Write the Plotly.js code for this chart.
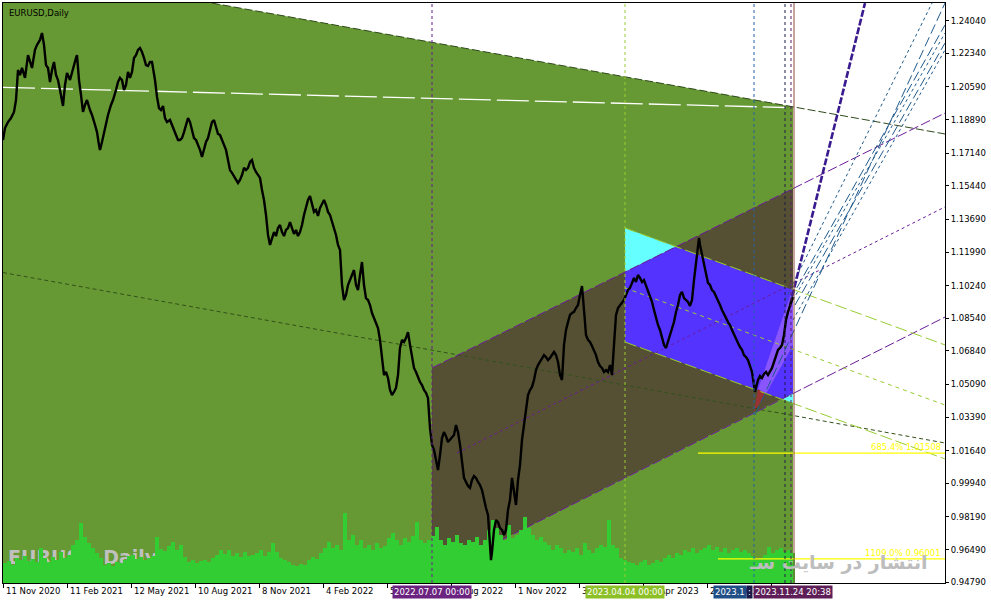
<!DOCTYPE html>
<html><head><meta charset="utf-8">
<script src="https://cdn.plot.ly/plotly-3.0.1.min.js"></script>
<style>html,body{margin:0;padding:0;background:#fff}#chart{width:991px;height:605px}</style>
</head><body><div id="chart"></div>
<script>
// ---- price (daily bars, index = bar number) ----
const priceBar = [3,5,8,11,14,16,18,20,22,25,28,30,32,35,37,40,42,44,46,48,50,52,54,56,58,60,62,63,65,67,70,72,74,76,77,79,81,83,85,87,90,92,95,97,99,100,102,105,108,111,113,116,118,120,122,124,126,128,130,132,134,136,138,140,142,144,146,148,150,152,154,155,157,159,161,163,165,167,170,172,174,176,178,180,182,184,186,188,190,192,194,196,198,200,202,204,206,208,210,212,214,216,218,220,222,224,226,228,230,232,234,236,238,240,242,244,246,248,250,252,254,256,258,260,262,264,266,268,270,272,274,276,278,280,282,284,286,288,290,292,294,296,298,300,302,304,306,308,310,312,314,316,318,320,322,324,326,328,330,332,334,336,338,340,342,344,346,348,350,352,354,356,358,360,362,364,366,368,370,372,374,376,378,380,382,384,386,388,390,392,394,396,398,400,402,404,406,408,410,412,414,416,418,420,422,424,426,428,430,432,434,436,438,440,442,444,446,448,450,452,454,456,458,460,462,464,466,468,470,472,474,476,478,480,482,484,486,488,490,491,492,494,496,498,500,502,504,506,508,510,512,514,516,518,520,522,524,526,528,530,532,534,536,538,540,542,544,546,548,550,552,554,556,558,560,562,564,566,568,570,572,574,576,578,580,582,584,586,588,590,592,594,596,598,600,602,604,606,608,610,612,614,616,618,620,622,624,626,628,630,632,634,636,638,640,642,644,646,648,650,652,654,656,658,660,662,664,666,668,670,672,674,676,678,680,682,684,686,688,690,692,694,696,698,699,700,702,704,706,708,710,712,714,716,718,720,722,724,726,728,730,732,734,736,738,740,742,744,746,748,750,752,754,755,756,758,760,762,764,766,768,770,772,774,776,778,780,782,784,786,788,790,792,793];
const priceClose = [1.1783,1.1845,1.1876,1.1897,1.1929,1.1991,1.2147,1.2121,1.2158,1.2106,1.2225,1.2189,1.2158,1.2252,1.2278,1.2304,1.2340,1.2278,1.2173,1.2158,1.2085,1.2147,1.2189,1.2121,1.2095,1.2043,1.1991,1.1960,1.2069,1.2132,1.2095,1.2137,1.2173,1.2210,1.2225,1.2095,1.2017,1.1929,1.1965,1.1991,1.1939,1.1913,1.1861,1.1824,1.1757,1.1731,1.1772,1.1845,1.1913,1.1965,1.1991,1.2043,1.2085,1.2106,1.2095,1.2043,1.2069,1.2137,1.2106,1.2137,1.2210,1.2225,1.2252,1.2262,1.2241,1.2210,1.2173,1.2168,1.2189,1.2189,1.2137,1.2095,1.2007,1.1949,1.1939,1.1960,1.1897,1.1876,1.1887,1.1861,1.1835,1.1809,1.1783,1.1783,1.1793,1.1824,1.1861,1.1897,1.1876,1.1835,1.1793,1.1783,1.1757,1.1731,1.1694,1.1731,1.1772,1.1793,1.1835,1.1876,1.1887,1.1845,1.1814,1.1809,1.1783,1.1757,1.1731,1.1678,1.1626,1.1611,1.1595,1.1574,1.1559,1.1574,1.1600,1.1637,1.1626,1.1637,1.1668,1.1678,1.1637,1.1616,1.1600,1.1585,1.1522,1.1470,1.1392,1.1288,1.1236,1.1272,1.1303,1.1282,1.1324,1.1340,1.1303,1.1282,1.1314,1.1324,1.1355,1.1324,1.1293,1.1314,1.1282,1.1303,1.1340,1.1392,1.1428,1.1470,1.1491,1.1444,1.1408,1.1418,1.1387,1.1428,1.1449,1.1470,1.1444,1.1408,1.1392,1.1355,1.1324,1.1288,1.1236,1.1210,1.1027,1.0949,1.0975,1.1027,1.1053,1.1079,1.1105,1.1027,1.1001,1.1079,1.1147,1.1027,1.0959,1.0949,1.0923,1.0881,1.0855,1.0834,1.0803,1.0741,1.0636,1.0558,1.0574,1.0543,1.0480,1.0454,1.0470,1.0491,1.0558,1.0699,1.0741,1.0730,1.0751,1.0782,1.0715,1.0647,1.0595,1.0574,1.0543,1.0522,1.0506,1.0480,1.0465,1.0438,1.0282,1.0194,1.0168,1.0105,1.0063,1.0141,1.0230,1.0261,1.0240,1.0209,1.0220,1.0230,1.0246,1.0298,1.0261,1.0194,1.0089,1.0022,1.0001,0.9980,0.9970,1.0011,1.0032,1.0022,1.0001,0.9985,0.9959,0.9907,0.9865,0.9829,0.9699,0.9594,0.9636,0.9751,0.9803,0.9792,0.9761,0.9751,0.9725,0.9751,0.9855,0.9907,1.0022,0.9959,0.9881,1.0011,1.0089,1.0220,1.0298,1.0402,1.0454,1.0480,1.0496,1.0532,1.0584,1.0610,1.0626,1.0647,1.0662,1.0652,1.0636,1.0647,1.0662,1.0678,1.0662,1.0626,1.0558,1.0532,1.0715,1.0793,1.0834,1.0871,1.0881,1.0887,1.0907,1.0923,1.0975,1.1022,1.0897,1.0767,1.0741,1.0730,1.0709,1.0689,1.0662,1.0626,1.0605,1.0595,1.0574,1.0584,1.0574,1.0610,1.0558,1.0715,1.0871,1.0907,1.0923,1.0939,1.0949,1.0975,1.1001,1.1012,1.1043,1.1064,1.1043,1.1079,1.1064,1.1043,1.1053,1.1027,1.1001,1.0970,1.0939,1.0897,1.0855,1.0819,1.0793,1.0751,1.0715,1.0699,1.0730,1.0767,1.0793,1.0834,1.0887,1.0923,1.0975,1.0991,1.0959,1.0949,1.0939,1.0918,1.0949,1.1053,1.1147,1.1236,1.1272,1.1236,1.1183,1.1147,1.1079,1.1038,1.1027,1.1001,1.0991,1.0970,1.0949,1.0923,1.0897,1.0871,1.0855,1.0834,1.0819,1.0793,1.0767,1.0741,1.0725,1.0704,1.0689,1.0662,1.0652,1.0636,1.0610,1.0574,1.0506,1.0470,1.0491,1.0532,1.0553,1.0543,1.0564,1.0574,1.0558,1.0574,1.0595,1.0626,1.0662,1.0689,1.0699,1.0715,1.0767,1.0845,1.0887,1.0923,1.0949,1.0965];

// ---- tick volume (thousands), one value per 4-bar block starting at bar 3 ----
const volStartBar = 3, volBlock = 4;
const volumeK = [40,44,36,50,46,54,44,48,42,70,50,42,52,46,62,50,56,76,86,120,92,80,70,60,50,36,40,34,42,40,46,54,56,48,52,46,50,54,92,68,64,74,82,66,76,52,42,46,40,44,46,42,50,56,66,58,66,54,60,52,62,54,56,60,66,54,62,80,62,50,46,42,36,34,38,36,46,52,48,60,70,82,70,76,66,140,86,96,76,86,70,76,66,80,70,74,90,100,86,76,90,82,94,122,86,80,86,94,112,86,76,90,82,96,80,76,86,82,92,76,86,106,126,110,96,86,116,90,96,106,132,110,96,86,92,82,76,66,76,70,60,66,62,70,56,80,66,60,70,76,72,126,76,70,50,46,42,40,36,42,46,36,40,46,42,50,56,50,60,56,66,62,70,60,66,70,76,66,72,62,70,60,66,70,62,66,60,54,46,50,56,72,60,66,70,62,66,60];

// ---- axes ----
const priceTicks = [1.24040,1.22340,1.20590,1.18890,1.17140,1.15440,1.13690,1.11990,1.10240,1.08540,1.06840,1.05090,1.03390,1.01640,0.99940,0.98190,0.96490,0.94790];
const dateTickBars = [3.5,67.5,131.5,195.5,259.5,323.5,387.5,451.5,515.5,579.5,643.5,707.5,771.5];
const dateTickLabels = ["11 Nov 2020","11 Feb 2021","12 May 2021","10 Aug 2021","8 Nov 2021","4 Feb 2022","5 May 2022","3 Aug 2022","1 Nov 2022","30 Jan 2023","28 Apr 2023","27 Jul 2023",""];
const barRange = [3, 945];
const priceRange = [0.94746, 1.24964];

// ---- drawn objects (bar, price) ----
const bigZoneBar = [3,212,793,793,3];
const bigZonePrice = [1.2496,1.2496,1.1956,0.9470,0.9470];
const channelBar = [432,793,793,432];
const channelPrice = [1.0595,1.1529,1.0465,0.9516];
const channelTopBar = [432,945], channelTopPrice = [1.0595,1.1923];
const channelBotBar = [432,945], channelBotPrice = [0.9516,1.0860];
const channelMidBar = [457,945], channelMidPrice = [1.0152,1.1434];
const regTopBar = [625,945], regTopPrice = [1.1324,1.0715];
const regMidBar = [625,945], regMidPrice = [1.1012,1.0402];
const regBotBar = [625,945], regBotPrice = [1.0730,1.0121];
const cyanTopBar = [625,676,625], cyanTopPrice = [1.1324,1.1227,1.1095];
const cyanBotBar = [782,793,793], cyanBotPrice = [1.0433,1.0465,1.0412];
const blueBar = [625,676,793,793,782,625];
const bluePrice = [1.1095,1.1227,1.1001,1.0465,1.0433,1.0730];
const lavBar = [758,793,793,766], lavPrice = [1.0485,1.1012,1.0715,1.0460];
const redBar = [754,758,766], redPrice = [1.0366,1.0485,1.0460];
const whiteLineBar = [3,785], whiteLinePrice = [1.2057,1.1952];
const zoneEdgeBar = [212,945], zoneEdgePrice = [1.2496,1.1814];
const longTrendBar = [3,945], longTrendPrice = [1.1092,1.0204];
const fanStartBar = [755,785,790,793,795,793];
const fanStartPrice = [1.0350,1.0949,1.0949,1.0949,1.0923,1.0845];
const fanEndBar = [945,932,945,945,945,945];
const fanEndPrice = [1.2496,1.2496,1.2382,1.2340,1.2288,1.2252];
const steepBar = [790,865], steepPrice = [1.0923,1.2496];
const fibLevels = [1.01508, 0.96001];
const fibStartBar = [698, 718];
const fibLabels = ["685.4% 1.01508", "1109.0% 0.96001"];
const vLineBar = [432,625,754,785,791];
const vLineColor = ["#6a1b8a","#9acd32","#2460a8","#1c1c44","#5a1a66"];
// bottom time labels of the vertical lines (later ones cover the earlier ones)
const vLabelText = ["2022.07.07 00:00","2023.04.04 00:00","2023.1",":","2023.11.24 20:38"];
const vLabelBar = [432,625,730,749,793];
const vLabelBg = ["#6b2380","#8dbf26","#1f4f86","#1a1a4a","#5e1f58"];
const nowBar = 794;

const F = "DejaVu Sans";
function line(x,y,color,width,dash,ax){return {x:x,y:y,type:'scatter',mode:'lines',line:{color:color,width:width,dash:dash},yaxis:ax||'y',hoverinfo:'skip'};}
function poly(x,y,color){return {x:x,y:y,type:'scatter',mode:'lines',fill:'toself',fillcolor:color,line:{width:0,color:color},hoverinfo:'skip'};}

const traces = [];
traces.push(poly(bigZoneBar,bigZonePrice,'#669933'));
traces.push(poly(channelBar,channelPrice,'#555033'));
traces.push(poly(cyanTopBar,cyanTopPrice,'#66ffff'));
traces.push(poly(cyanBotBar,cyanBotPrice,'#66ffff'));
traces.push(poly(blueBar,bluePrice,'#5533ff'));
traces.push(poly(lavBar,lavPrice,'#8855ff'));
traces.push(poly(redBar,redPrice,'#993333'));
// watermark symbol text (under volume)
traces.push({x:[8],y:[0.9600],type:'scatter',mode:'text',text:['EURUSD,Daily'],textposition:'middle right',textfont:{family:F,size:19,color:'#c0c0c0',weight:'bold'},hoverinfo:'skip'});
traces.push(line(whiteLineBar,whiteLinePrice,'#ffffff',1.3,'32px,6px'));
traces.push(line(zoneEdgeBar,zoneEdgePrice,'#2f4a1c',1,'8px,3px'));
traces.push(line(longTrendBar,longTrendPrice,'#33501c',1,'4px,3px'));
traces.push(line(channelTopBar,channelTopPrice,'#6a1b9a',1,'10px,3px'));
traces.push(line(channelBotBar,channelBotPrice,'#6a1b9a',1,'10px,3px'));
traces.push(line(channelMidBar,channelMidPrice,'#6a1b9a',1,'3px,3px'));
traces.push(line(regTopBar,regTopPrice,'#99cc33',1,'12px,4px'));
traces.push(line(regMidBar,regMidPrice,'#99cc33',1,'4px,4px'));
traces.push(line(regBotBar,regBotPrice,'#99cc33',1,'12px,4px'));
for(let i=0;i<fanStartBar.length;i++){
  traces.push(line([fanStartBar[i],fanEndBar[i]],[fanStartPrice[i],fanEndPrice[i]],'#1f5a8c',1,(i%2?'3px,3px':'10px,4px')));
}
traces.push(line(steepBar,steepPrice,'#3a1a8f',2.6,'7px,2px'));
// volume on its own overlay axis
const volX = volumeK.map((v,i)=>volStartBar+i*volBlock);
const volY = volumeK.slice();
volX.push(795); volY.push(volumeK[volumeK.length-1]);
traces.push({x:volX,y:volY,type:'scatter',mode:'lines',line:{shape:'hv',width:0,color:'#32cd32'},fill:'tozeroy',fillcolor:'#32cd32',yaxis:'y2',hoverinfo:'skip'});
// price + fib levels on top overlay
traces.push(line(priceBar,priceClose,'#000000',2.4,'solid','y3'));
for(let i=0;i<fibLevels.length;i++){
  traces.push(line([fibStartBar[i],945],[fibLevels[i],fibLevels[i]],'#ffff00',1.2,'solid','y3'));
}

const shapes = vLineBar.map((b,i)=>({type:'line',xref:'x',yref:'paper',x0:b,x1:b,y0:0,y1:1,layer:'above',line:{color:vLineColor[i],width:1,dash:'3px,3px'}}));
shapes.push({type:'line',xref:'x',yref:'paper',x0:nowBar,x1:nowBar,y0:0,y1:1,layer:'above',line:{color:'#8a4a3a',width:1}});

const annotations = [];
annotations.push({xref:'paper',yref:'paper',x:0,y:1,xanchor:'left',yanchor:'top',xshift:4,yshift:-3,text:'EURUSD,Daily',showarrow:false,font:{family:F,size:8.5,color:'#000'}});
dateTickBars.forEach((b,i)=>{ if(dateTickLabels[i]) annotations.push({xref:'x',yref:'paper',x:b,y:0,xanchor:'left',yanchor:'top',xshift:0,yshift:-1,text:dateTickLabels[i],showarrow:false,font:{family:F,size:8.5,color:'#000'}}); });
vLabelBar.forEach((b,i)=>annotations.push({xref:'x',yref:'paper',x:b,y:0,xanchor:'center',yanchor:'top',yshift:-2,text:vLabelText[i],showarrow:false,bgcolor:vLabelBg[i],borderpad:1,font:{family:F,size:8.5,color:'#ffffff'}}));
fibLevels.forEach((p,i)=>annotations.push({xref:'x',yref:'y',x:943,y:p,xanchor:'right',yanchor:'bottom',yshift:-1,text:fibLabels[i],showarrow:false,font:{family:F,size:8.5,color:'#ffff00'}}));
annotations.push({xref:'x',yref:'paper',x:930,y:0,xanchor:'right',yanchor:'bottom',yshift:7,text:'انتشار در سایت سـ',showarrow:false,font:{family:F,size:19,color:'#bdbdbd',weight:'bold'}});

const axisY = {side:'right',range:priceRange,tickvals:priceTicks,ticktext:priceTicks.map(v=>v.toFixed(5)),ticks:'outside',ticklen:3,tickcolor:'#000',showline:true,mirror:true,linecolor:'#000',linewidth:1,showgrid:false,zeroline:false,tickfont:{family:F,size:8.5,color:'#000'},fixedrange:true};
const layout = {
  width:991,height:605,margin:{l:3,r:46,t:3,b:22},
  paper_bgcolor:'#ffffff',plot_bgcolor:'#ffffff',showlegend:false,
  xaxis:{range:barRange,tickvals:dateTickBars,showticklabels:false,ticks:'outside',ticklen:4,tickcolor:'#000',showline:true,mirror:true,linecolor:'#000',linewidth:1,showgrid:false,zeroline:false},
  yaxis:axisY,
  yaxis2:{overlaying:'y',range:[0,1160],visible:false,showgrid:false,zeroline:false},
  yaxis3:{overlaying:'y',range:priceRange,visible:false,showgrid:false,zeroline:false},
  shapes:shapes,annotations:annotations
};
Plotly.newPlot('chart',traces,layout,{staticPlot:true,displayModeBar:false});
</script></body></html>
